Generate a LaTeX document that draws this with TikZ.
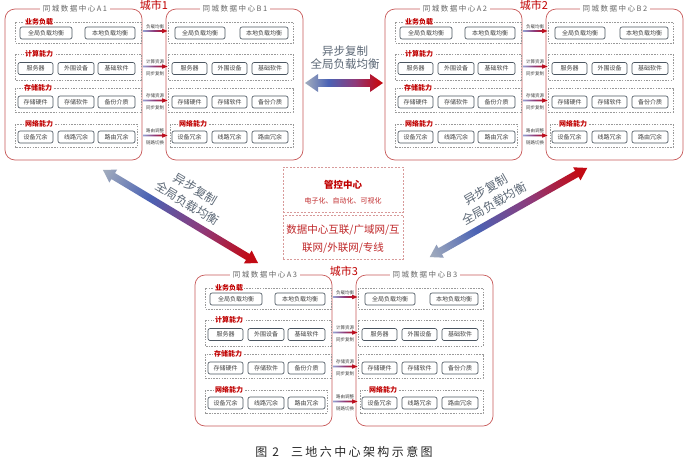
\documentclass[tikz,border=0pt]{standalone}
\usepackage{fontspec}
\setmainfont{Noto Sans CJK SC}
\usetikzlibrary{calc}
\definecolor{boxred}{HTML}{C85A5A}
\definecolor{labred}{HTML}{C00000}
\definecolor{txtgray}{HTML}{404040}
\definecolor{ttlgray}{HTML}{666666}
\definecolor{dashgray}{HTML}{9A9A9A}
\definecolor{cellborder}{HTML}{4A5560}
\definecolor{arrgray}{HTML}{A3ADBD}
\definecolor{arrblue}{HTML}{4A62B4}
\definecolor{arrpurple}{HTML}{8E3A7A}
\definecolor{arrred}{HTML}{C20A14}
\definecolor{ctrred}{HTML}{C0282A}
\definecolor{ctrdash}{HTML}{D89A9A}
\definecolor{slate}{HTML}{5C6876}
\pgfdeclarehorizontalshading{bigarrow}{100bp}{color(0bp)=(arrgray); color(25bp)=(arrgray); color(40bp)=(arrblue); color(57bp)=(arrpurple); color(72bp)=(arrred); color(100bp)=(arrred)}
\pgfdeclarehorizontalshading{smallarrow}{100bp}{color(0bp)=(arrblue!60!white); color(25bp)=(arrblue!60!white); color(48bp)=(arrpurple); color(68bp)=(arrred); color(100bp)=(arrred)}
\tikzset{
  dcbox/.style={draw=boxred, line width=0.7pt, rounded corners=10pt},
  dctitle/.style={fill=white, text=ttlgray, inner sep=2.5pt, font=\fontsize{7.5}{8}\selectfont\addfontfeature{LetterSpace=20}},
  city/.style={text=labred, inner sep=0pt, font=\fontsize{11}{12}\selectfont},
  grp/.style={draw=dashgray, line width=0.5pt, dash pattern=on 1.5pt off 1.2pt},
  glab/.style={fill=white, text=labred, inner sep=1pt, font=\bfseries\fontsize{7}{8}\selectfont},
  cell/.style={draw=cellborder, line width=0.65pt, rounded corners=2pt, minimum height=12pt, inner sep=0pt, text=txtgray, font=\fontsize{6}{7}\selectfont},
  linktxt/.style={inner sep=0pt, text=txtgray, font=\fontsize{4.5}{5}\selectfont},
  arrtxt/.style={text=slate, align=center, inner sep=0pt},
  ctrbox/.style={draw=ctrdash, line width=0.6pt, dash pattern=on 2pt off 1.5pt},
}
\newcommand\linkarrow[1]{\shade[shading=smallarrow] (143,#1-0.8) -- (162,#1-0.8) -- (162,#1-2.3) -- (167.5,#1) -- (162,#1+2.3) -- (162,#1+0.8) -- (143,#1+0.8) -- cycle;}
\newcommand\bigdbl[4]{\shade[shading=bigarrow] (-#1/2,0) -- ({-#1/2+#4},#3) -- ({-#1/2+#4},#2) -- ({#1/2-#4},#2) -- ({#1/2-#4},#3) -- (#1/2,0) -- ({#1/2-#4},-#3) -- ({#1/2-#4},-#2) -- ({-#1/2+#4},-#2) -- ({-#1/2+#4},-#3) -- cycle;}
\newcommand\dccluster[6]{%
\begin{scope}[shift={(#2,#3)}]
  \draw[dcbox] (5,9) rectangle (142,160);
  \draw[dcbox] (166,9) rectangle (303,160);
  \node[dctitle] (#1At) at (75,9) {#4};
  \node[dctitle] (#1Bt) at (235,9) {#5};
  \node[city] (#1c) at (154,5) {#6};
  % A groups
  \draw[grp] (15,22) rectangle (141,43);
  \draw[grp] (15,54) rectangle (141,80);
  \draw[grp] (15,88) rectangle (141,112);
  \draw[grp] (15,124) rectangle (137,147);
  \node[glab] (#1Ag1) at (39,22) {业务负载};
  \node[glab] (#1Ag2) at (39,54) {计算能力};
  \node[glab] (#1Ag3) at (38,88) {存储能力};
  \node[glab] (#1Ag4) at (39,124) {网络能力};
  % B groups
  \draw[grp] (168,22) rectangle (293,43);
  \draw[grp] (168,54) rectangle (293,80);
  \draw[grp] (168,88) rectangle (293,112);
  \draw[grp] (170,124) rectangle (293,147);
  \node[glab] (#1Bg4) at (193,124) {网络能力};
  % A cells
  \node[cell, minimum width=52] (#1Aa1) at (46,33) {全局负载均衡};
  \node[cell, minimum width=50] (#1Aa2) at (110,33) {本地负载均衡};
  \node[cell, minimum width=35] (#1Ab1) at (35.5,68.5) {服务器};
  \node[cell, minimum width=36] (#1Ab2) at (76,68.5) {外围设备};
  \node[cell, minimum width=37] (#1Ab3) at (116.5,68.5) {基础软件};
  \node[cell, minimum width=35] (#1Ac1) at (35.5,102) {存储硬件};
  \node[cell, minimum width=36] (#1Ac2) at (76,102) {存储软件};
  \node[cell, minimum width=37] (#1Ac3) at (116.5,102) {备份介质};
  \node[cell, minimum width=35] (#1Ad1) at (35.5,137) {设备冗余};
  \node[cell, minimum width=36] (#1Ad2) at (76,137) {线路冗余};
  \node[cell, minimum width=37] (#1Ad3) at (116.5,137) {路由冗余};
  % B cells
  \node[cell, minimum width=50] (#1Ba1) at (200,33) {全局负载均衡};
  \node[cell, minimum width=48] (#1Ba2) at (264,33) {本地负载均衡};
  \node[cell, minimum width=35] (#1Bb1) at (189.5,68.5) {服务器};
  \node[cell, minimum width=35] (#1Bb2) at (229.5,68.5) {外围设备};
  \node[cell, minimum width=36] (#1Bb3) at (270,68.5) {基础软件};
  \node[cell, minimum width=35] (#1Bc1) at (189.5,102) {存储硬件};
  \node[cell, minimum width=35] (#1Bc2) at (229.5,102) {存储软件};
  \node[cell, minimum width=36] (#1Bc3) at (270,102) {备份介质};
  \node[cell, minimum width=35] (#1Bd1) at (189.5,137) {设备冗余};
  \node[cell, minimum width=35] (#1Bd2) at (229.5,137) {线路冗余};
  \node[cell, minimum width=36] (#1Bd3) at (270,137) {路由冗余};
  % links
  \node[linktxt] (#1l1) at (155,26.5) {负载均衡};
  \linkarrow{31}
  \node[linktxt] (#1l2a) at (155,62) {计算资源};
  \linkarrow{66.5}
  \node[linktxt] (#1l2b) at (155,74) {同步复制};
  \node[linktxt] (#1l3a) at (155,96) {存储资源};
  \linkarrow{100.5}
  \node[linktxt] (#1l3b) at (155,108) {同步复制};
  \node[linktxt] (#1l4a) at (155,131) {路由调整};
  \linkarrow{135.5}
  \node[linktxt] (#1l4b) at (155,143) {链路切换};
\end{scope}}
\begin{document}
\begin{tikzpicture}[x=1pt, y=-1pt]
\path[use as bounding box, fill=white] (0,0) rectangle (690,461);
\dccluster{c1}{0}{0}{同城数据中心A1}{同城数据中心B1}{城市1}
\dccluster{c2}{380}{0}{同城数据中心A2}{同城数据中心B2}{城市2}
\dccluster{c3}{190}{266}{同城数据中心A3}{同城数据中心B3}{城市3}
% horizontal big arrow
\begin{scope}[shift={(344,83)}]
  \bigdbl{78}{3.8}{9}{13}
\end{scope}
\node[arrtxt, font=\fontsize{11.5}{12.5}\selectfont] (htxt) at (345,57.5) {异步复制\\全局负载均衡};
% left diagonal
\begin{scope}[transform canvas={shift={(180.5,216.5)}, rotate=-31}]
  \bigdbl{181}{3.5}{7.5}{12}
  \node[arrtxt, font=\fontsize{12}{16.5}\selectfont] (ltxt) at (-1,-23) {异步复制\\全局负载均衡};
\end{scope}
% right diagonal
\begin{scope}[transform canvas={shift={(508.5,212.5)}, rotate=29.5}]
  \bigdbl{181}{3.5}{7.5}{12}
  \node[arrtxt, font=\fontsize{12}{16.5}\selectfont] (rtxt) at (-8,-23) {异步复制\\全局负载均衡};
\end{scope}
% control center
\node[ctrbox, minimum width=120, minimum height=45] (ctrl) at (343,189.5) {};
\node[ctrbox, minimum width=120, minimum height=44] (net) at (343,237) {};
\node[text=labred, inner sep=0pt, font=\bfseries\fontsize{9.5}{10}\selectfont] (ctrt) at (343,185) {管控中心};
\node[text=ctrred, inner sep=0pt, font=\fontsize{7}{8}\selectfont] (ctrs) at (343,200.5) {电子化、自动化、可视化};
\node[text=ctrred, inner sep=0pt, font=\fontsize{10.5}{11}\selectfont] (net1) at (343,230) {数据中心互联/广域网/互};
\node[text=ctrred, inner sep=0pt, font=\fontsize{10.5}{11}\selectfont] (net2) at (343,248) {联网/外联网/专线};
% caption
\node[text=black!85, inner sep=0pt, font=\fontsize{12}{13}\selectfont\addfontfeature{LetterSpace=20}] (cap) at (344,452) {图 2\hspace{1em}三地六中心架构示意图};
\end{tikzpicture}
\end{document}
